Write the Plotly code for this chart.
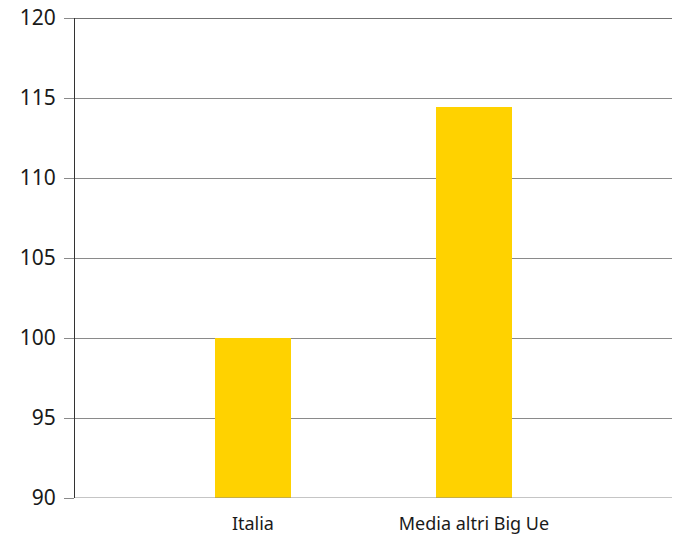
import plotly.graph_objects as go

categories = ["Italia", "Media altri Big Ue"]
values = [100.0, 114.45]
y_ticks = [90, 95, 100, 105, 110, 115, 120]

fig = go.Figure()
fig.add_trace(go.Bar(
    x=categories, y=values,
    marker=dict(color="#FFD200", line=dict(width=0)),
    width=0.344,
))

fig.update_layout(
    width=679, height=536,
    margin=dict(l=75, r=7, t=18, b=38, autoexpand=False),
    paper_bgcolor="white", plot_bgcolor="white",
    showlegend=False,
    font=dict(family="Noto Sans, sans-serif", color="#1a1a1a"),
    bargap=0,
)
fig.update_xaxes(
    type="category",
    range=[-0.805, 1.896],
    showgrid=False,
    showline=False,
    ticks="",
    tickfont=dict(size=18, color="#1a1a1a"),
    ticklabelstandoff=13,
    automargin=False,
    fixedrange=True,
)
fig.update_yaxes(
    range=[90, 120],
    tickvals=y_ticks,
    showgrid=True, gridcolor="#8a8a8a", gridwidth=1,
    showline=True, linecolor="#333333", linewidth=1,
    ticks="outside", ticklen=10, tickcolor="#8a8a8a",
    tickfont=dict(size=21, color="#1a1a1a"),
    ticklabelstandoff=4,
    zeroline=False,
    automargin=False,
    fixedrange=True,
)
fig.add_hline(y=90, line=dict(color="#8a8a8a", width=1))
fig.add_hline(y=120, line=dict(color="#444444", width=1.5))
fig.write_html("out.html")
